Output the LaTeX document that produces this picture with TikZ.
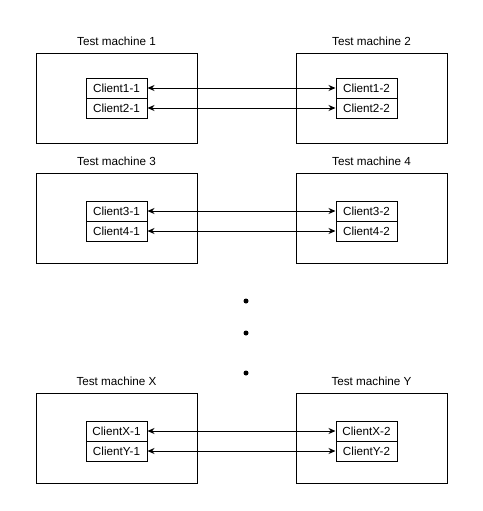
\documentclass[tikz,border=0pt]{standalone}
\usepackage{fontspec}
\setmainfont{Liberation Sans}
\usetikzlibrary{arrows.meta}
\begin{document}
\begin{tikzpicture}[x=1pt,y=-1pt,
  machine/.style={draw=black,line width=1pt,minimum width=161pt,minimum height=90pt,inner sep=0pt,anchor=north west},
  client/.style={draw=black,line width=1pt,minimum width=61pt,minimum height=20pt,inner sep=0pt,font=\fontsize{11.7}{13}\selectfont},
  title/.style={font=\fontsize{11.7}{13}\selectfont,inner sep=0pt},
  link/.style={line width=1pt,{Stealth[length=7pt,width=6pt]}-{Stealth[length=7pt,width=6pt]}},
  dot/.style={circle,fill=black,inner sep=0pt,minimum size=5pt}]
\useasboundingbox (0,0) rectangle (482,511);
% one row: two machines, two client pairs, two links
\foreach \r/\top/\ctop/\ma/\mb/\ca/\cb in {
  1/53/78/1/2/1/2,
  2/173/201/3/4/3/4,
  3/393/421/X/Y/X/Y}{
  \node[machine] (m\r a) at (36,\top) {};
  \node[machine,minimum width=151pt] (m\r b) at (296,\top) {};
  \node[title] (t\r a) at (116.5,\top-12) {Test machine \ma};
  \node[title] (t\r b) at (371.5,\top-12) {Test machine \mb};
  \node[client] (c\r a1) at (116.5,\ctop+10) {Client\ca-1};
  \node[client] (c\r a2) at (116.5,\ctop+30) {Client\cb-1};
  \node[client] (c\r b1) at (366.5,\ctop+10) {Client\ca-2};
  \node[client] (c\r b2) at (366.5,\ctop+30) {Client\cb-2};
  \draw[link] (c\r a1) -- (c\r b1);
  \draw[link] (c\r a2) -- (c\r b2);
}
% ellipsis between the rows
\node[dot] (d1) at (246,301) {};
\node[dot] (d2) at (246,333) {};
\node[dot] (d3) at (246,373) {};
\end{tikzpicture}
\end{document}
